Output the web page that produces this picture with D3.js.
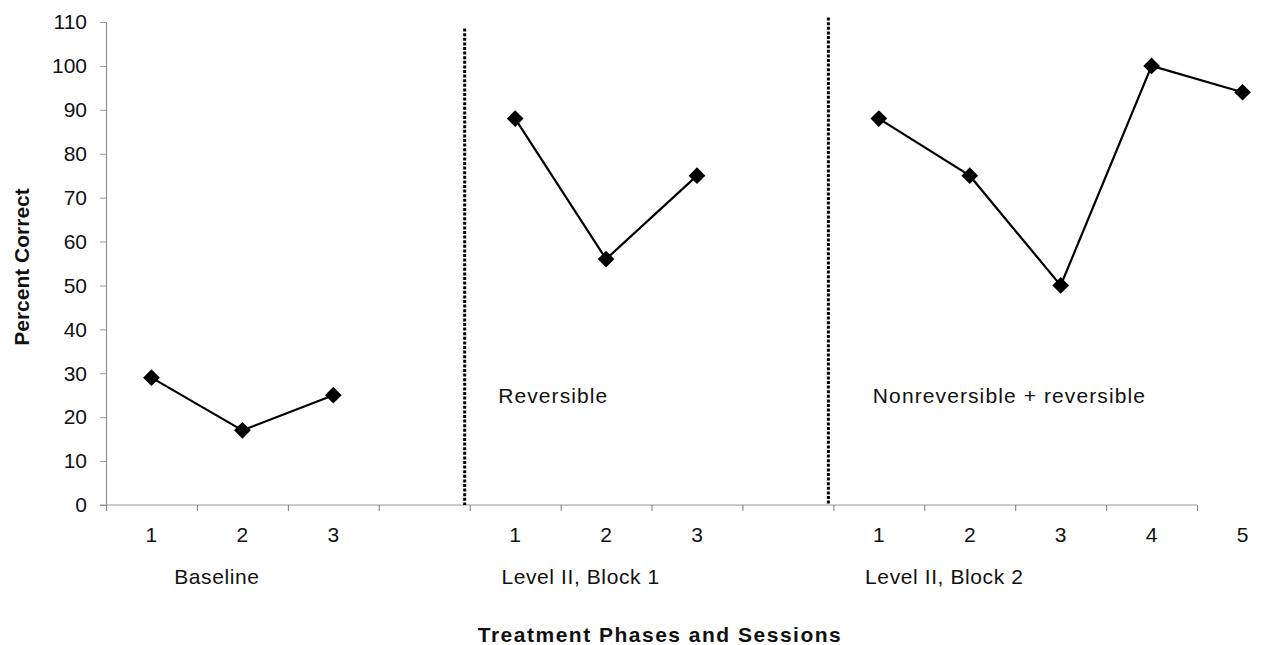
<!DOCTYPE html>
<html>
<head>
<meta charset="utf-8">
<script src="https://cdn.jsdelivr.net/npm/d3@7/dist/d3.min.js"></script>
<style>
  body { margin: 0; background: #fff; }
  text { font-family: Arial, "Liberation Sans", sans-serif; fill: #111; }
</style>
</head>
<body>
<div id="chart"></div>
<script>
var width = 1278, height = 645;

// data
var phaseNames = ["Baseline", "Level II, Block 1", "Level II, Block 2"];
var phaseNotes = ["", "Reversible", "Nonreversible + reversible"];
var baseline = [29, 17, 25];
var block1 = [88, 56, 75];
var block2 = [88, 75, 50, 100, 94];
var yTicks = [0, 10, 20, 30, 40, 50, 60, 70, 80, 90, 100, 110];

var phaseValues = [baseline, block1, block2];

// build slot list: sessions of every phase, with one empty slot between phases
var slots = [];
phaseValues.forEach(function(vals, p) {
    vals.forEach(function(v, i) {
        slots.push({ id: p + '-' + i, phase: p, session: i + 1, value: v });
    });
    if (p < phaseValues.length - 1) slots.push({ id: 'gap' + p, phase: p, gap: true });
});

var svg = d3.select("#chart")
    .append("svg")
    .attr("width", width)
    .attr("height", height)

var x = d3.scaleBand()
    .domain(slots.map(function(d) { return d.id }))
    .range([106, 1288])
    .padding(0)

var xb = d3.scaleLinear()
    .domain([0, slots.length])
    .range(x.range())

var y = d3.scaleLinear()
    .domain([0, 110])
    .range([505, 22])

// y axis
var yAxis = svg.append('g')
    .attr('transform', 'translate(106,0)')
    .call(d3.axisLeft(y).tickValues(yTicks).tickSize(6).tickPadding(13))
yAxis.select('.domain').attr('stroke', '#888').attr('stroke-width', 1)
yAxis.selectAll('.tick line').attr('stroke', '#999')
yAxis.selectAll('.tick text')
    .style('font-size', '21px')
    .style('font-family', 'Arial, "Liberation Sans", sans-serif')
    .attr('fill', '#111')

// x axis, ticks on slot boundaries (last slot has no closing tick)
var xAxis = svg.append('g')
    .attr('transform', 'translate(0,' + y(0) + ')')
    .call(d3.axisBottom(xb).tickValues(d3.range(slots.length)).tickSize(6).tickFormat('').tickSizeOuter(0))
xAxis.select('.domain')
    .attr('d', 'M' + (xb(0) - 6) + ',0H' + xb(slots.length - 1))
    .attr('stroke', '#999')
xAxis.selectAll('.tick line').attr('stroke', '#777')

// session numbers
svg.append('g')
    .selectAll('text')
    .data(slots.filter(function(d) { return !d.gap }))
    .enter()
    .append('text')
    .attr('x', function(d) { return x(d.id) + x.bandwidth() / 2 })
    .attr('y', y(0) + 37)
    .attr('text-anchor', 'middle')
    .style('font-size', '21px')
    .text(function(d) { return d.session })

// phase names
svg.append('g')
    .selectAll('text')
    .data(phaseNames)
    .enter()
    .append('text')
    .attr('x', function(d, i) { return x(i + '-0') + x.bandwidth() * 1.22 })
    .attr('y', y(0) + 79)
    .attr('text-anchor', 'middle')
    .style('font-size', '21px')
    .style('letter-spacing', '0.6px')
    .text(function(d) { return d })

// phase change lines
var gaps = slots.filter(function(d) { return d.gap });
svg.append('g')
    .selectAll('line')
    .data(gaps)
    .enter()
    .append('line')
    .attr('x1', function(d) { return x(d.id) + x.bandwidth() - 5 })
    .attr('x2', function(d) { return x(d.id) + x.bandwidth() - 5 })
    .attr('y1', function(d, i) { return i == 0 ? y(108.5) : y(111) })
    .attr('y2', y(0))
    .attr('stroke', '#000')
    .attr('stroke-width', 3)
    .attr('stroke-dasharray', '3,1.6')

// phase notes
var notes = phaseNotes.map(function(t, i) { return { text: t, phase: i } })
    .filter(function(d) { return d.text != '' });
svg.append('g')
    .selectAll('text')
    .data(notes)
    .enter()
    .append('text')
    .attr('x', function(d) { return x(d.phase + '-0') + x.bandwidth() / 2 + (d.phase == 1 ? -17 : -6) })
    .attr('y', y(25) + 8)
    .style('font-size', '21px')
    .style('letter-spacing', '1.1px')
    .text(function(d) { return d.text })

// lines per phase
var line = d3.line()
    .x(function(d) { return x(d.id) + x.bandwidth() / 2 })
    .y(function(d) { return y(d.value) })

phaseValues.forEach(function(vals, p) {
    var pts = slots.filter(function(d) { return d.phase == p && !d.gap });
    svg.append('path')
        .datum(pts)
        .attr('d', line)
        .attr('fill', 'none')
        .attr('stroke', '#000')
        .attr('stroke-width', 2.2)
});

// diamond markers
svg.append('g')
    .selectAll('path')
    .data(slots.filter(function(d) { return !d.gap }))
    .enter()
    .append('path')
    .attr('d', d3.symbol().type(d3.symbolSquare).size(140))
    .attr('transform', function(d) {
        return 'translate(' + (x(d.id) + x.bandwidth() / 2) + ',' + y(d.value) + ') rotate(45)'
    })
    .attr('fill', '#000')

// axis titles
svg.append('text')
    .attr('transform', 'translate(29,' + 267 + ') rotate(-90)')
    .attr('text-anchor', 'middle')
    .style('font-size', '21px')
    .style('font-weight', 'bold')
    .text('Percent Correct')

svg.append('text')
    .attr('x', 660)
    .attr('y', 642)
    .attr('text-anchor', 'middle')
    .style('font-size', '21px')
    .style('font-weight', 'bold')
    .style('letter-spacing', '1.5px')
    .text('Treatment Phases and Sessions')
</script>
</body>
</html>
